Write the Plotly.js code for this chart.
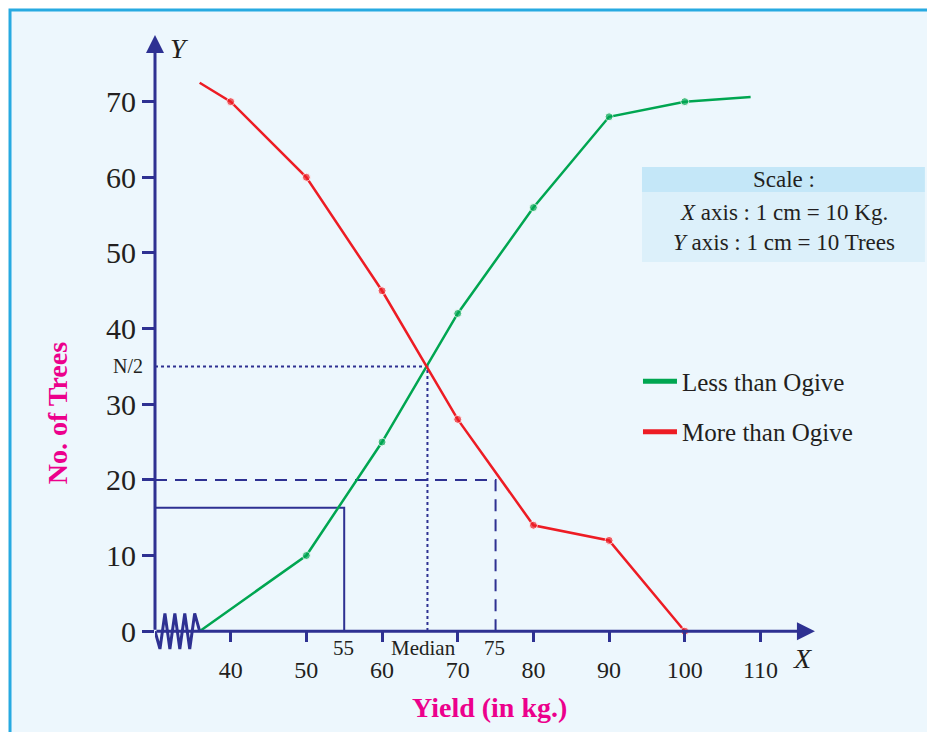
<!DOCTYPE html>
<html><head><meta charset="utf-8">
<script src="https://cdn.plot.ly/plotly-3.0.1.min.js"></script>
<style>html,body{margin:0;padding:0;background:#fff}#chart{width:927px;height:732px}</style>
</head><body><div id="chart"></div>
<script>
// ---- data ----
const lessX = [35.9, 50, 60, 70, 80, 90, 100, 108.7];
const lessY = [0, 10, 25, 42, 56, 68, 70, 70.6];
const lessMarked = [0, 1, 1, 1, 1, 1, 1, 0];
const moreX = [35.9, 40, 50, 60, 70, 80, 90, 100];
const moreY = [72.5, 70, 60, 45, 28, 14, 12, 0];
const moreMarked = [0, 1, 1, 1, 1, 1, 1, 1];
const xTicks = [40, 50, 60, 70, 80, 90, 100, 110];
const yTicks = [0, 10, 20, 30, 40, 50, 60, 70];
const seriesNames = ['Less than Ogive', 'More than Ogive'];
const q1Point = [55, 16.3];       // x, y of Q1 guide
const q3Point = [75, 20];         // x, y of Q3 guide
const medianPoint = [66, 35];     // median, N/2
const specialLabels = ['55', 'Median', '75'];
const scaleLines = ['Scale :', '<i>X</i> axis : 1 cm = 10 Kg.', '<i>Y</i> axis : 1 cm = 10 Trees'];

// ---- styling ----
const NAVY = '#2e3192', GREEN = '#00a651', RED = '#ed1c24', MAG = '#ec008c', TXT = '#231f20';
const FONT = 'Liberation Serif, Times New Roman, serif';
const X0 = 30, XMAX = 118, YMIN = -5, YMAX = 80;

// axis-break zigzag (decoration)
const zzX = [X0], zzY = [0];
const zzEnd = lessX[0], zzN = 8, zzAmp = 2.35;
for (let i = 1; i <= zzN; i++) {
  zzX.push(X0 + (zzEnd - X0) * i / (zzN + 1));
  zzY.push(i % 2 ? -zzAmp : zzAmp);
}
zzX.push(zzEnd); zzY.push(0);

const guide = (pt, dash, w) => ({
  x: [X0, pt[0], pt[0]], y: [pt[1], pt[1], 0], mode: 'lines', showlegend: false, hoverinfo: 'skip',
  line: {color: NAVY, width: w, dash: dash}
});

const traces = [
  guide(q1Point, 'solid', 2),
  guide(q3Point, '12px,8px', 2),
  guide(medianPoint, 'dot', 2),
  {x: zzX, y: zzY, mode: 'lines', showlegend: false, hoverinfo: 'skip', line: {color: NAVY, width: 3}},
  {x: lessX, y: lessY, mode: 'lines+markers', name: seriesNames[0], showlegend: false,
   line: {color: GREEN, width: 2.5}, marker: {color: GREEN, size: lessMarked.map(m => m ? 8 : 0)}},
  {x: moreX, y: moreY, mode: 'lines+markers', name: seriesNames[1], showlegend: false,
   line: {color: RED, width: 2.5}, marker: {color: RED, size: moreMarked.map(m => m ? 8 : 0)}},
  {x: [null], y: [null], mode: 'lines', name: seriesNames[0], legendgroup: 'a', line: {color: GREEN, width: 5}},
  {x: [null], y: [null], mode: 'lines', name: seriesNames[1], legendgroup: 'b', line: {color: RED, width: 5}}
];

const ann = [];
const A = (o) => ann.push(Object.assign({showarrow: false, xanchor: 'center', yanchor: 'middle'}, o));
// axis arrows
ann.push({x: X0, y: 78.8, ax: X0, ay: 0, xref: 'x', yref: 'y', axref: 'x', ayref: 'y', text: '', showarrow: true,
  arrowhead: 2, arrowsize: 1.2, arrowwidth: 3, arrowcolor: NAVY});
ann.push({x: 117.2, y: 0, ax: X0, ay: 0, xref: 'x', yref: 'y', axref: 'x', ayref: 'y', text: '', showarrow: true,
  arrowhead: 2, arrowsize: 1.2, arrowwidth: 3, arrowcolor: NAVY});
// axis letters
A({x: 33.3, y: 77.0, xref: 'x', yref: 'y', text: '<i>Y</i>', font: {family: FONT, size: 28, color: TXT}});
A({x: 115.5, y: -3.6, xref: 'x', yref: 'y', text: '<i>X</i>', font: {family: FONT, size: 28, color: TXT}});
// special labels
const specX = [q1Point[0], medianPoint[0], q3Point[0]];
const specShift = [-1, -4, -1];
specialLabels.forEach((t, i) => A({x: specX[i], y: 0, xref: 'x', yref: 'y', yanchor: 'top', yshift: -3, xshift: specShift[i],
  text: t, font: {family: FONT, size: 21, color: TXT}}));
A({x: X0, y: medianPoint[1], xref: 'x', yref: 'y', xanchor: 'right', xshift: -10, text: 'N/2',
  font: {family: FONT, size: 20, color: TXT}});
// axis titles
A({x: -0.147, y: 0.398, xref: 'paper', yref: 'paper', textangle: -90, text: '<b>No. of Trees</b>',
  font: {family: FONT, size: 28, color: MAG}});
A({x: 0.503, y: -0.060, xref: 'paper', yref: 'paper', text: '<b>Yield (in kg.)</b>',
  font: {family: FONT, size: 28, color: MAG}});
// scale box texts
const scaleY = [0.7607, 0.7097, 0.6630];
scaleLines.forEach((t, i) => A({x: 0.9437, y: scaleY[i], xref: 'paper', yref: 'paper', text: t,
  font: {family: FONT, size: 23, color: TXT}}));

const shapes = [
  {type: 'rect', xref: 'paper', yref: 'paper', x0: -0.2177, x1: 1.4, y0: -0.3, y1: 1.0249, layer: 'below',
   fillcolor: '#edf7fd', line: {color: '#27aae1', width: 3}},
  {type: 'rect', xref: 'paper', yref: 'paper', x0: 0.7312, x1: 1.156, y0: 0.633, y1: 0.7418, layer: 'below',
   fillcolor: '#dcf0fa', line: {width: 0}},
  {type: 'rect', xref: 'paper', yref: 'paper', x0: 0.7312, x1: 1.156, y0: 0.7418, y1: 0.7807, layer: 'below',
   fillcolor: '#c4e7f8', line: {width: 0}}
];

const layout = {
  width: 927, height: 732,
  margin: {l: 155, r: 106, t: 26, b: 63},
  paper_bgcolor: '#ffffff', plot_bgcolor: 'rgba(0,0,0,0)',
  xaxis: {range: [X0, XMAX], anchor: 'free', position: (0 - YMIN) / (YMAX - YMIN), showgrid: false, zeroline: false, showline: false,
    tickvals: xTicks, ticktext: xTicks.map(String), ticks: 'outside', ticklen: 10, tickwidth: 3, tickcolor: NAVY,
    ticklabelstandoff: 7, tickfont: {family: FONT, size: 24, color: TXT}},
  yaxis: {range: [YMIN, YMAX], showgrid: false, zeroline: false, showline: false,
    tickvals: yTicks, ticktext: yTicks.map(String), ticks: 'outside', ticklen: 12, tickwidth: 3, tickcolor: NAVY,
    ticklabelstandoff: 0, tickfont: {family: FONT, size: 30, color: TXT}},
  showlegend: true,
  legend: {x: 0.7252, y: 0.483, xanchor: 'left', yanchor: 'top', bgcolor: 'rgba(0,0,0,0)', traceorder: 'grouped',
    tracegroupgap: 15, itemwidth: 34, font: {family: FONT, size: 25, color: TXT}},
  annotations: ann, shapes: shapes
};

Plotly.newPlot('chart', traces, layout, {displayModeBar: false, staticPlot: true});
</script></body></html>
